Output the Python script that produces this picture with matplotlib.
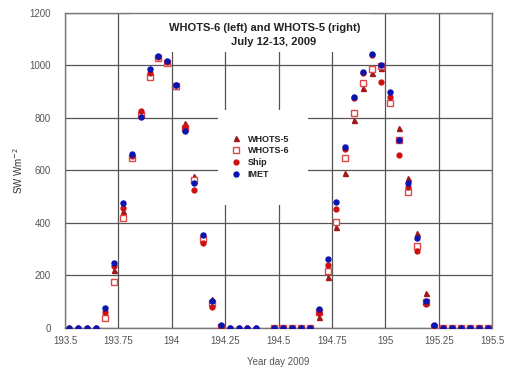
import numpy as np
import matplotlib
matplotlib.use("Agg")
import matplotlib.pyplot as plt
from matplotlib.patches import Rectangle

nan = np.nan
# Day 1 (WHOTS-6 period), hourly
t1 = 193.5208 + np.arange(22) / 24.0
imet1 = [0, 0, 0, 0, 76, 248, 476, 663, 804, 987, 1036, 1017, 926, 750, 552, 354, 103, 10, 0, 0, 0, 0]
ship1 = [0, 0, 0, 0, 61, 236, 457, 655, 827, 971, 1032, 1012, 925, 766, 526, 324, 80, 4, 0, 0, 0, 0]
w5_1 = [nan, nan, nan, nan, 55, 221, 446, 652, 820, 965, 1033, 1013, 922, 781, 578, 345, 110, 4, nan, nan, nan, nan]
w6_1 = [nan, nan, nan, nan, 38, 175, 419, 648, 812, 956, 1030, 1008, 920, 760, 565, 339, 95, 2, nan, nan, nan, nan]

# Day 2 (WHOTS-5 period), hourly
t2 = 194.4792 + np.arange(25) / 24.0
imet2 = [0, 0, 0, 0, 0, 72, 263, 480, 690, 880, 975, 1044, 1002, 899, 716, 553, 343, 103, 12, 0, 0, 0, 0, 0, 0]
ship2 = [0, 0, 0, 0, 0, 57, 240, 453, 680, 875, 970, 1040, 937, 880, 659, 537, 293, 91, 8, 0, 0, 0, 0, 0, 0]
w5_2 = [0, 0, 0, 0, 0, 42, 195, 385, 590, 792, 914, 971, 990, 869, 762, 571, 362, 133, 10, 0, 0, 0, 0, 0, 0]
w6_2 = [0, 0, 0, 0, 0, 61, 217, 404, 648, 819, 933, 987, 998, 857, 716, 518, 312, 100, 5, 0, 0, 0, 0, 0, 0]

time = np.concatenate([t1, t2])
imet = np.array(imet1 + imet2, dtype=float)
ship = np.array(ship1 + ship2, dtype=float)
w5 = np.array(w5_1 + w5_2, dtype=float)
w6 = np.array(w6_1 + w6_2, dtype=float)

xticks = [193.5, 193.75, 194, 194.25, 194.5, 194.75, 195, 195.25, 195.5]
xticklabels = ["193.5", "193.75", "194", "194.25", "194.5", "194.75", "195", "195.25", "195.5"]
yticks = [0, 200, 400, 600, 800, 1000, 1200]

plt.rcParams['font.family'] = ['Liberation Sans', 'DejaVu Sans']

fig = plt.figure(figsize=(5.08, 3.70), dpi=100)
ax = fig.add_axes([0.128, 0.1135, 0.841, 0.8515])

ax.set_xlim(193.5, 195.5)
ax.set_ylim(0, 1200)
ax.set_xticks(xticks)
ax.set_xticklabels(xticklabels)
ax.set_yticks(yticks)
ax.tick_params(length=0, labelsize=7, colors='#555555')
ax.tick_params(axis='x', pad=6)
ax.tick_params(axis='y', pad=10)
ax.set_axisbelow(True)
ax.grid(True, color='#555555', linewidth=0.9)
for s in ax.spines.values():
    s.set_color('#777777')
    s.set_linewidth(1.0)

# white boxes behind title and legend (cover grid)
ax.add_patch(Rectangle((0.152, 0.876), 0.562, 0.124, transform=ax.transAxes,
                       facecolor='white', edgecolor='none', zorder=1.5))
ax.add_patch(Rectangle((0.358, 0.39), 0.211, 0.302, transform=ax.transAxes,
                       facecolor='white', edgecolor='none', zorder=1.5))

ax.plot(time, w5, linestyle='none', marker='^', markersize=3.6, color='#a01818',
        markeredgecolor='#a01818', label='WHOTS-5', zorder=3)
ax.plot(time, w6, linestyle='none', marker='s', markersize=4.0, markerfacecolor='white',
        markeredgecolor='#e04848', markeredgewidth=1.0, label='WHOTS-6', zorder=3.1)
ax.plot(time, ship, linestyle='none', marker='o', markersize=3.5, color='#cc1010',
        label='Ship', zorder=3.2)
ax.plot(time, imet, linestyle='none', marker='o', markersize=3.6, color='#0a14b0',
        label='IMET', zorder=3.3)

ax.text(0.468, 0.952, "WHOTS-6 (left) and WHOTS-5 (right)", transform=ax.transAxes,
        ha='center', va='center', fontsize=8, fontweight='bold', color='#222222', zorder=4)
ax.text(0.487, 0.908, "July 12-13, 2009", transform=ax.transAxes,
        ha='center', va='center', fontsize=8, fontweight='bold', color='#222222', zorder=4)

leg = ax.legend(loc='center', bbox_to_anchor=(0.458, 0.544), frameon=False,
                handlelength=0.8, handletextpad=0.9, labelspacing=0.3,
                borderpad=0.2, prop={'weight': 'bold', 'size': 6.5})
for txt in leg.get_texts():
    txt.set_color('#222222')
leg.set_zorder(5)

ax.set_xlabel("Year day 2009", fontsize=7, color='#555555', labelpad=8)
ax.set_ylabel("SW Wm$^{-2}$", fontsize=7, color='#333333', labelpad=3)

fig.savefig("out.png", dpi=100)
